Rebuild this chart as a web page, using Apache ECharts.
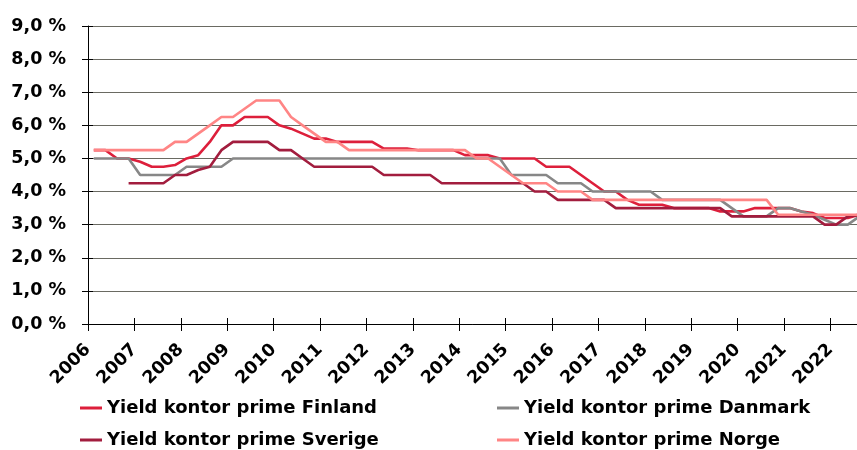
<!DOCTYPE html>
<html>
<head>
<meta charset="utf-8">
<script src="https://cdn.jsdelivr.net/npm/echarts@6/dist/echarts.min.js"></script>
<style>html,body{margin:0;padding:0;background:#fff;}#c{width:857px;height:450px;}</style>
</head>
<body>
<div id="c"></div>
<script>
// Quarterly observations, Q1 2006 .. Q3 2022 (67 quarters)
const startYear = 2006;
const seriesNames = ['Yield kontor prime Finland', 'Yield kontor prime Danmark', 'Yield kontor prime Sverige', 'Yield kontor prime Norge'];
const finland = [5.25,5.25,5.0,5.0, 4.9,4.75,4.75,4.8, 5.0,5.1,5.5,6.0, 6.0,6.25,6.25,6.25, 6.0,5.9,5.75,5.6,
  5.6,5.5,5.5,5.5, 5.5,5.3,5.3,5.3, 5.25,5.25,5.25,5.25, 5.1,5.1,5.1,5.0, 5.0,5.0,5.0,4.75,
  4.75,4.75,4.5,4.25, 4.0,4.0,3.75,3.6, 3.6,3.6,3.5,3.5, 3.5,3.5,3.4,3.4, 3.4,3.5,3.5,3.5,
  3.5,3.4,3.35,3.2, 3.2,3.2,3.3];
const danmark = [5.0,5.0,5.0,5.0, 4.5,4.5,4.5,4.5, 4.75,4.75,4.75,4.75, 5.0,5.0,5.0,5.0, 5.0,5.0,5.0,5.0,
  5.0,5.0,5.0,5.0, 5.0,5.0,5.0,5.0, 5.0,5.0,5.0,5.0, 5.0,5.0,5.0,5.0, 4.5,4.5,4.5,4.5,
  4.25,4.25,4.25,4.0, 4.0,4.0,4.0,4.0, 4.0,3.75,3.75,3.75, 3.75,3.75,3.75,3.5, 3.25,3.25,3.25,3.5,
  3.5,3.4,3.3,3.15, 3.0,3.0,3.25];
const sverige = [null,null,null,4.25, 4.25,4.25,4.25,4.5, 4.5,4.65,4.75,5.25, 5.5,5.5,5.5,5.5, 5.25,5.25,5.0,4.75,
  4.75,4.75,4.75,4.75, 4.75,4.5,4.5,4.5, 4.5,4.5,4.25,4.25, 4.25,4.25,4.25,4.25, 4.25,4.25,4.0,4.0,
  3.75,3.75,3.75,3.75, 3.75,3.5,3.5,3.5, 3.5,3.5,3.5,3.5, 3.5,3.5,3.5,3.25, 3.25,3.25,3.25,3.25,
  3.25,3.25,3.25,3.0, 3.0,3.25,3.3];
const norge = [5.25,5.25,5.25,5.25, 5.25,5.25,5.25,5.5, 5.5,5.75,6.0,6.25, 6.25,6.5,6.75,6.75, 6.75,6.25,6.0,5.75,
  5.5,5.5,5.25,5.25, 5.25,5.25,5.25,5.25, 5.25,5.25,5.25,5.25, 5.25,5.0,5.0,4.75, 4.5,4.25,4.25,4.25,
  4.0,4.0,4.0,3.75, 3.75,3.75,3.75,3.75, 3.75,3.75,3.75,3.75, 3.75,3.75,3.75,3.75, 3.75,3.75,3.75,3.3,
  3.3,3.3,3.3,3.3, 3.3,3.3,3.3];
const yTicks = [0,1,2,3,4,5,6,7,8,9];
const colors = ['#DD1F3B', '#878787', '#A21D3E', '#FF8585'];

const nQ = finland.length;
// x position of quarter i = middle of the quarter (Excel-style "between tick marks")
function toPairs(arr) { return arr.map((v, i) => [startYear + (i + 0.5) / 4, v]); }
const allData = [finland, danmark, sverige, norge];

const FONT = 'DejaVu Sans';
const chart = echarts.init(document.getElementById('c'), null, { renderer: 'canvas' });
const xCommon = { type: 'value', min: startYear, max: startYear + nQ / 4, interval: 1 };
const yCommon = { type: 'value', min: yTicks[0], max: yTicks[yTicks.length - 1], interval: 1 };
const legendText = { fontFamily: FONT, fontWeight: 'bold', fontSize: 18, color: '#000', lineHeight: 20 };
chart.setOption({
  animation: false,
  backgroundColor: '#ffffff',
  grid: { left: 88, top: 26, bottom: 126, right: 857 - (88 + (nQ / 4) * 46.4), outerBoundsMode: 'none' },
  xAxis: [
    Object.assign({}, xCommon, {
      position: 'bottom',
      axisLine: { show: true, lineStyle: { color: '#000', width: 1 } },
      axisTick: { show: true, inside: false, length: 7, lineStyle: { color: '#000' } },
      splitLine: { show: false },
      axisLabel: {
        rotate: 45, margin: 23, padding: [20, 0, 0, 0], fontFamily: FONT, fontWeight: 'bold', fontSize: 17.5, color: '#000',
        showMaxLabel: false, hideOverlap: false,
        formatter: v => (Math.abs(v - Math.round(v)) < 1e-6 ? String(Math.round(v)) : '')
      }
    }),
    Object.assign({}, xCommon, {
      position: 'bottom',
      axisLine: { show: false },
      axisTick: { show: true, inside: true, length: 6, lineStyle: { color: '#000' } },
      splitLine: { show: false },
      axisLabel: { show: false }
    })
  ],
  yAxis: [
    Object.assign({}, yCommon, {
      position: 'left',
      axisLine: { show: true, lineStyle: { color: '#000', width: 1 } },
      axisTick: { show: true, inside: false, length: 6, lineStyle: { color: '#000' } },
      splitLine: { show: true, lineStyle: { color: '#6a6a62', width: 1 } },
      axisLabel: {
        margin: 22, fontFamily: FONT, fontWeight: 'bold', fontSize: 17.5, color: '#000',
        formatter: v => v.toFixed(1).replace('.', ',') + ' %'
      }
    }),
    Object.assign({}, yCommon, {
      position: 'left',
      axisLine: { show: false },
      axisTick: { show: true, inside: true, length: 5, lineStyle: { color: '#000' } },
      splitLine: { show: false },
      axisLabel: { show: false }
    })
  ],
  legend: [
    {
      data: [seriesNames[0], seriesNames[2]], orient: 'vertical', left: 80, top: 398, height: 120, width: 400,
      icon: 'rect', itemWidth: 22, itemHeight: 3, itemGap: 12, padding: 0,
      textStyle: legendText
    },
    {
      data: [seriesNames[1], seriesNames[3]], orient: 'vertical', left: 497, top: 398, height: 120, width: 400,
      icon: 'rect', itemWidth: 22, itemHeight: 3, itemGap: 12, padding: 0,
      textStyle: legendText
    }
  ],
  series: allData.map((arr, k) => ({
    name: seriesNames[k], type: 'line', xAxisIndex: 0, yAxisIndex: 0,
    data: toPairs(arr), showSymbol: false, symbol: 'none', connectNulls: false,
    color: colors[k], lineStyle: { color: colors[k], width: 2.6 }, z: 2 + k
  }))
});
</script>
</body>
</html>
